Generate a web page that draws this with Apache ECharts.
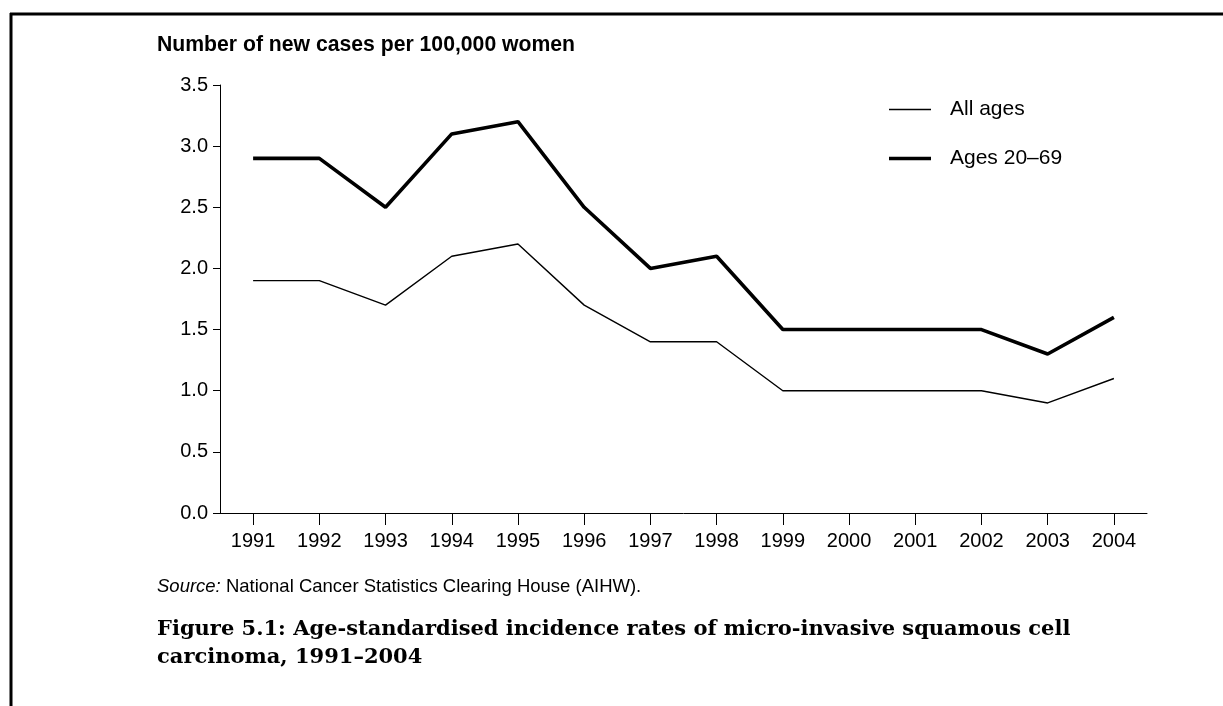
<!DOCTYPE html>
<html>
<head>
<meta charset="utf-8">
<script src="https://cdn.jsdelivr.net/npm/echarts@6/dist/echarts.min.js"></script>
<style>
  html, body { margin: 0; padding: 0; background: #fff; }
  #chart { width: 1223px; height: 706px; }
</style>
</head>
<body>
<div id="chart"></div>
<script>
const years = ['1991', '1992', '1993', '1994', '1995', '1996', '1997', '1998', '1999', '2000', '2001', '2002', '2003', '2004']
const allAges = [1.9, 1.9, 1.7, 2.1, 2.2, 1.7, 1.4, 1.4, 1.0, 1.0, 1.0, 1.0, 0.9, 1.1]
const ages2069 = [2.9, 2.9, 2.5, 3.1, 3.2, 2.5, 2.0, 2.1, 1.5, 1.5, 1.5, 1.5, 1.3, 1.6]

const sans = 'Liberation Sans, Arial, sans-serif'
const serif = 'DejaVu Serif, serif'

const chart = echarts.init(document.getElementById('chart'), null, { renderer: 'canvas' })

chart.setOption({
	animation: false,
	backgroundColor: '#fff',
	title: [
		{
			text: 'Number of new cases per 100,000 women',
			left: 157,
			top: 35,
			padding: 0,
			textStyle: { fontFamily: sans, fontSize: 21.2, fontWeight: 'bold', color: '#000' }
		},
		{
			text: '{i|Source:} National Cancer Statistics Clearing House (AIHW).',
			left: 157,
			top: 577,
			padding: 0,
			textStyle: {
				fontFamily: sans, fontSize: 18.5, fontWeight: 'normal', color: '#000',
				rich: { i: { fontFamily: sans, fontSize: 18.5, fontStyle: 'italic', color: '#000' } }
			}
		},
		{
			text: 'Figure 5.1: Age-standardised incidence rates of micro-invasive squamous cell\ncarcinoma, 1991–2004',
			left: 157,
			top: 616,
			padding: 0,
			textStyle: { fontFamily: serif, fontSize: 21, fontWeight: 'bold', color: '#000', lineHeight: 28 }
		}
	],
	legend: {
		orient: 'vertical',
		left: 889,
		top: 99,
		padding: 0,
		itemWidth: 42,
		itemHeight: 20,
		itemGap: 28,
		symbolKeepAspect: true,
		textStyle: { fontFamily: sans, fontSize: 21, color: '#000', padding: [0, 0, 0, 14] },
		data: [
			{ name: 'All ages', icon: 'path://M0,0L42,0L42,1.4L0,1.4Z' },
			{ name: 'Ages 20–69', icon: 'path://M0,0L42,0L42,3.6L0,3.6Z' }
		]
	},
	grid: { left: 220, right: 76, top: 85, bottom: 193 },
	xAxis: {
		type: 'category',
		data: years,
		boundaryGap: true,
		axisLine: { lineStyle: { color: '#000', width: 1 } },
		axisTick: { show: true, alignWithLabel: true, length: 12, lineStyle: { color: '#000' } },
		axisLabel: { fontFamily: sans, fontSize: 20, color: '#000', margin: 18 }
	},
	yAxis: {
		type: 'value',
		min: 0,
		max: 3.5,
		interval: 0.5,
		splitLine: { show: false },
		axisLine: { show: true, lineStyle: { color: '#000', width: 1 } },
		axisTick: { show: true, length: 7, lineStyle: { color: '#000' } },
		axisLabel: {
			fontFamily: sans, fontSize: 20, color: '#000', margin: 12,
			formatter: v => v.toFixed(1)
		}
	},
	series: [
		{
			name: 'All ages',
			type: 'line',
			data: allAges,
			symbol: 'none',
			lineStyle: { color: '#000', width: 1.4 },
			itemStyle: { color: '#000' }
		},
		{
			name: 'Ages 20–69',
			type: 'line',
			data: ages2069,
			symbol: 'none',
			lineStyle: { color: '#000', width: 3.6 },
			itemStyle: { color: '#000' }
		}
	],
	graphic: [
		{ type: 'line', shape: { x1: 10, y1: 14, x2: 1223, y2: 14 }, style: { stroke: '#000', lineWidth: 3 } },
		{ type: 'line', shape: { x1: 11, y1: 13, x2: 11, y2: 706 }, style: { stroke: '#000', lineWidth: 3 } }
	]
})
</script>
</body>
</html>
